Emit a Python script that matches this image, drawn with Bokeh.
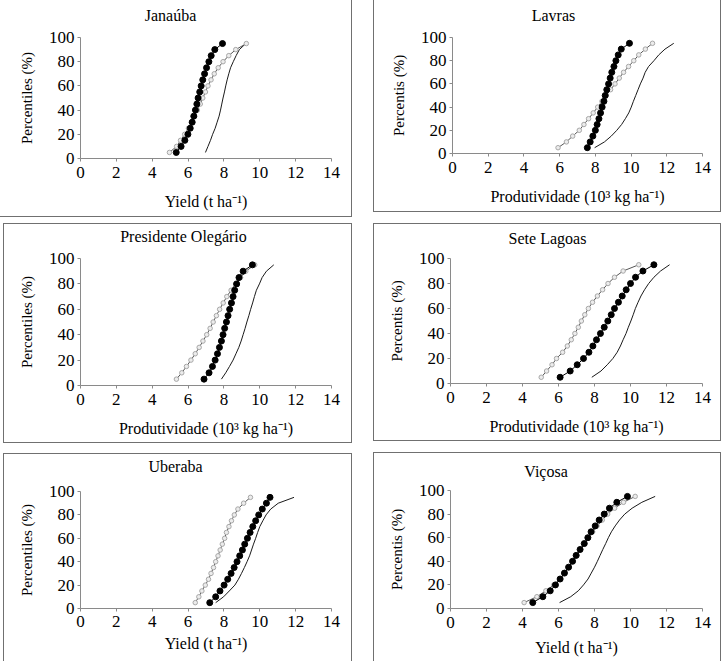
from bokeh.plotting import figure
from bokeh.layouts import column, row
from bokeh.models import FixedTicker, LinearAxis, Title
from bokeh.embed import file_html
from bokeh.resources import INLINE

# Percentile levels shared by every site
percentis = [5, 10, 15, 20, 25, 30, 35, 40, 45, 50, 55, 60, 65, 70, 75, 80, 85, 90, 95]

x_ticks = [0, 2, 4, 6, 8, 10, 12, 14]
y_ticks = [0, 20, 40, 60, 80, 100]

# Yield (t/ha) at each percentile: filled markers, open markers, plain curve
janauba_cheia = [5.34, 5.61, 5.82, 5.99, 6.12, 6.23, 6.32, 6.41, 6.49, 6.56, 6.65, 6.73, 6.82, 6.92, 7.03, 7.16, 7.29, 7.49, 7.92]
janauba_aberta = [4.96, 5.36, 5.58, 5.81, 6.02, 6.19, 6.36, 6.52, 6.68, 6.82, 6.97, 7.11, 7.28, 7.46, 7.68, 7.95, 8.27, 8.66, 9.25]
janauba_curva = [6.97, 7.11, 7.25, 7.37, 7.51, 7.62, 7.73, 7.81, 7.88, 7.95, 8.03, 8.10, 8.18, 8.27, 8.37, 8.52, 8.68, 8.86, 9.22]

lavras_cheia = [7.55, 7.71, 7.86, 8.00, 8.10, 8.20, 8.29, 8.38, 8.48, 8.55, 8.64, 8.74, 8.83, 8.92, 9.04, 9.15, 9.28, 9.45, 9.91]
lavras_aberta = [5.91, 6.38, 6.73, 7.10, 7.36, 7.62, 7.88, 8.13, 8.37, 8.61, 8.85, 9.10, 9.34, 9.58, 9.86, 10.15, 10.43, 10.80, 11.20]
lavras_curva = [7.96, 8.51, 8.89, 9.20, 9.47, 9.68, 9.87, 10.01, 10.13, 10.26, 10.39, 10.52, 10.67, 10.79, 10.98, 11.28, 11.55, 11.90, 12.39]

olegario_cheia = [6.89, 7.17, 7.36, 7.51, 7.64, 7.75, 7.86, 7.95, 8.04, 8.14, 8.23, 8.32, 8.42, 8.51, 8.60, 8.71, 8.84, 9.07, 9.59]
olegario_aberta = [5.35, 5.65, 5.91, 6.16, 6.40, 6.62, 6.83, 7.04, 7.23, 7.40, 7.58, 7.76, 7.96, 8.16, 8.40, 8.65, 8.93, 9.22, 9.72]
olegario_curva = [7.86, 8.10, 8.31, 8.51, 8.67, 8.83, 8.96, 9.07, 9.18, 9.28, 9.39, 9.49, 9.60, 9.70, 9.81, 9.98, 10.13, 10.37, 10.78]

sete_cheia = [6.09, 6.65, 7.04, 7.39, 7.69, 7.91, 8.11, 8.33, 8.54, 8.74, 8.93, 9.11, 9.33, 9.54, 9.76, 10.00, 10.28, 10.69, 11.30]
sete_aberta = [5.04, 5.34, 5.64, 5.89, 6.23, 6.49, 6.71, 6.91, 7.10, 7.27, 7.46, 7.66, 7.89, 8.16, 8.45, 8.75, 9.11, 9.59, 10.46]
sete_curva = [7.85, 8.36, 8.71, 9.02, 9.26, 9.44, 9.59, 9.75, 9.88, 10.02, 10.15, 10.27, 10.42, 10.58, 10.78, 11.01, 11.30, 11.67, 12.17]

uberaba_cheia = [7.21, 7.54, 7.78, 8.01, 8.21, 8.40, 8.57, 8.73, 8.88, 9.03, 9.16, 9.31, 9.46, 9.61, 9.77, 9.94, 10.14, 10.37, 10.57]
uberaba_aberta = [6.40, 6.60, 6.77, 6.96, 7.14, 7.28, 7.42, 7.54, 7.67, 7.79, 7.91, 8.04, 8.14, 8.28, 8.42, 8.58, 8.78, 9.10, 9.48]
uberaba_curva = [7.54, 7.98, 8.30, 8.61, 8.81, 8.98, 9.14, 9.29, 9.43, 9.54, 9.65, 9.77, 9.88, 10.00, 10.17, 10.35, 10.61, 11.03, 11.91]

vicosa_cheia = [4.57, 5.13, 5.54, 5.83, 6.09, 6.33, 6.56, 6.78, 6.98, 7.20, 7.43, 7.63, 7.81, 8.04, 8.26, 8.54, 8.83, 9.24, 9.83]
vicosa_aberta = [4.09, 4.80, 5.30, 5.74, 6.07, 6.34, 6.59, 6.81, 7.03, 7.21, 7.46, 7.67, 7.90, 8.14, 8.43, 8.73, 9.12, 9.61, 10.26]
vicosa_curva = [6.06, 6.68, 7.10, 7.39, 7.64, 7.82, 8.00, 8.16, 8.31, 8.46, 8.62, 8.77, 8.94, 9.15, 9.39, 9.68, 10.09, 10.63, 11.37]

YIELD_EN = "Yield (t ha\u207b\u00b9)"
YIELD_PT = "Produtividade (10\u00b3 kg ha\u207b\u00b9)"

FONT = "Liberation Serif"
TITLE_PX = 16
BOX = "#707070"

# Times-style advance widths (em) for centring the panel titles
EM = {"J": .389, "L": .611, "P": .556, "O": .722, "S": .556, "U": .722, "V": .722,
      "a": .444, "á": .444, "b": .5, "d": .5, "e": .444, "g": .5, "i": .278,
      "l": .278, "n": .5, "o": .5, "r": .333, "s": .389, "t": .278, "ú": .5,
      "v": .5, "ç": .444, " ": .25}


def largura(texto, px):
    return sum(EM.get(c, .5) for c in texto) * px


def painel(titulo, xlabel, ylabel, cheia, aberta, curva,
           width, height, borders, margin, lados, titulo_cx, titulo_gap,
           xgaps=(5, 12)):
    left, right, top, bottom = borders
    p = figure(width=width, height=height, x_range=(0, 14), y_range=(0, 100),
               output_backend="svg", toolbar_location=None,
               min_border_left=left, min_border_right=right,
               min_border_top=top, min_border_bottom=bottom)
    p.title_location = None
    p.margin = margin
    p.border_fill_color = None
    p.background_fill_color = None
    p.outline_line_color = None
    p.grid.visible = False

    xax = p.below[0]
    yax = p.left[0]

    # panel frame drawn as inset shadows on the requested sides
    shadows = []
    if "l" in lados:
        shadows.append(f"inset 1px 0 0 0 {BOX}")
    if "r" in lados:
        shadows.append(f"inset -1px 0 0 0 {BOX}")
    if "t" in lados:
        shadows.append(f"inset 0 1px 0 0 {BOX}")
    if "b" in lados:
        shadows.append(f"inset 0 -1px 0 0 {BOX}")
    p.styles = {"box-shadow": ", ".join(shadows), "background": "white"}

    for ax in (xax, yax):
        ax.axis_line_color = "#8a8a8a"
        ax.major_tick_line_color = "#8a8a8a"
        ax.minor_tick_line_color = None
        ax.major_tick_in = 0
        ax.major_tick_out = 3
        ax.major_label_text_font = FONT
        ax.major_label_text_font_size = "17px"
        ax.major_label_text_color = "black"
        ax.axis_label_text_font = FONT
        ax.axis_label_text_font_style = "normal"
        ax.axis_label_text_color = "black"

    xax.ticker = FixedTicker(ticks=x_ticks)
    yax.ticker = FixedTicker(ticks=y_ticks)
    xax.axis_label = xlabel
    yax.axis_label = ylabel
    xax.axis_label_text_font_size = "16px"
    yax.axis_label_text_font_size = "15px"
    xax.major_label_standoff = xgaps[0]
    yax.major_label_standoff = 3
    xax.axis_label_standoff = xgaps[1]
    yax.axis_label_standoff = 11

    # blank top axis (one white tick, empty label) that only reserves room
    # between the frame and the site name
    spacer = LinearAxis(ticker=FixedTicker(ticks=[7]), axis_line_color=None,
                        major_tick_line_color="white", minor_tick_line_color=None,
                        major_tick_in=0, major_tick_out=titulo_gap,
                        major_label_overrides={7: ""}, major_label_standoff=0,
                        major_label_text_font_size="1px")
    p.add_layout(spacer, "above")

    # site name, left-aligned with an offset so it sits centred on the panel
    p.add_layout(Title(text=titulo, text_font=FONT,
                       text_font_size=f"{TITLE_PX}px", text_font_style="normal",
                       text_color="black", align="left", vertical_align="bottom",
                       offset=titulo_cx - left - largura(titulo, TITLE_PX) / 2,
                       standoff=0), "above")

    # plain curve
    p.line(curva, percentis, line_color="#1a1a1a", line_width=1)
    # open-marker series
    p.line(aberta, percentis, line_color="#555555", line_width=1)
    p.scatter(aberta, percentis, marker="circle", size=4.5,
              line_color="#a8a8a8", fill_color="#ececec", line_width=1)
    # filled-marker series
    p.line(cheia, percentis, line_color="black", line_width=1)
    p.scatter(cheia, percentis, marker="circle", size=6,
              line_color="black", fill_color="black")
    return p


p1 = painel("Janaúba", YIELD_EN, "Percentiles (%)",
            janauba_cheia, janauba_aberta, janauba_curva,
            352, 217, (80, 21, 37, 59), (0, 0, 0, 0), "rb", 170, 14)
p2 = painel("Lavras", YIELD_PT, "Percentis (%)",
            lavras_cheia, lavras_aberta, lavras_curva,
            348, 212, (79, 19, 34, 57), (0, 0, 5, 21), "lrb", 180, 14)
p3 = painel("Presidente Olegário", YIELD_PT, "Percentiles (%)",
            olegario_cheia, olegario_aberta, olegario_curva,
            349, 220, (77, 21, 35, 58), (6, 0, 0, 3), "lrtb", 180, 14)
p4 = painel("Sete Lagoas", YIELD_PT, "Percentis (%)",
            sete_cheia, sete_aberta, sete_curva,
            348, 218, (77, 19, 33, 58), (6, 0, 2, 21), "lrtb", 174, 12)
p5 = painel("Uberaba", YIELD_EN, "Percentiles (%)",
            uberaba_cheia, uberaba_aberta, uberaba_curva,
            349, 208, (77, 21, 38, 49), (10, 0, 0, 3), "lrt", 172, 17,
            xgaps=(4, 5))
p6 = painel("Viçosa", YIELD_EN, "Percentis (%)",
            vicosa_cheia, vicosa_aberta, vicosa_curva,
            348, 209, (77, 19, 31, 53), (9, 0, 0, 21), "lrt", 173, 11,
            xgaps=(5, 8))

layout = column(row(p1, p2, spacing=0), row(p3, p4, spacing=0),
                row(p5, p6, spacing=0), spacing=0)

open("out.html", "w").write(file_html(layout, INLINE))
